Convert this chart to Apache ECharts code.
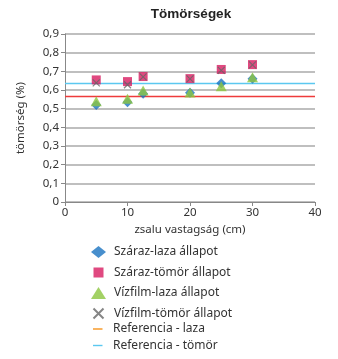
<!DOCTYPE html>
<html><head><meta charset="utf-8">
<script src="https://cdn.jsdelivr.net/npm/echarts@6/dist/echarts.min.js"></script>
<style>html,body{margin:0;padding:0;background:#fff}#c{width:338px;height:359px}</style>
</head><body><div id="c"></div>
<script>
var thickness = [5, 10, 12.5, 20, 25, 30];
var szarazLaza = [0.52, 0.535, 0.58, 0.585, 0.636, 0.66];
var szarazTomor = [0.654, 0.645, 0.672, 0.661, 0.71, 0.736];
var vizfilmLaza = [0.54, 0.553, 0.597, 0.587, 0.62, 0.668];
var vizfilmTomor = [0.638, 0.628, 0.67, 0.66, 0.705, 0.735];
var refX = [0, 40];
var refLaza = [0.565, 0.565];
var refTomor = [0.635, 0.635];
var names = ['Száraz-laza állapot','Száraz-tömör állapot','Vízfilm-laza állapot','Vízfilm-tömör állapot','Referencia - laza','Referencia - tömör'];

function pts(xs, ys){ return xs.map(function(x,i){return [x, ys[i]];}); }
var font = 'Noto Sans, sans-serif';
var xPath = 'path://M0,0L10,10M10,0L0,10';
// legend icons (box 18x12, shape in left 15px)
var lgDiamond = 'path://M0,0M18,12M0,6L7.5,0L15,6L7.5,12Z';
var lgSquare = 'path://M0,0M18,12M2.5,1L12.5,1L12.5,11L2.5,11Z';
var lgTriangle = 'path://M0,0M18,12M0,12L7.5,0L15,12Z';
var lgX = 'path://M0,0M18,12M2.5,1L12.5,11M12.5,1L2.5,11';
var lgLine = 'path://M0,0M18,12M3,5.3L12.5,5.3L12.5,6.7L3,6.7Z';

var chart = echarts.init(document.getElementById('c'));
chart.setOption({
  animation: false,
  title: {text: 'Tömörségek', left: 191, top: 7, textAlign: 'center', padding: 0,
    textStyle: {fontFamily: 'Liberation Sans, Arial', fontWeight: 'bold', fontSize: 13.5, color: '#222'}},
  grid: {left: 65, right: 23, top: 34, bottom: 157},
  xAxis: {type: 'value', min: 0, max: 40, interval: 10,
    name: 'zsalu vastagság (cm)', nameLocation: 'middle', nameGap: 22,
    nameTextStyle: {fontFamily: font, fontSize: 11.5, color: '#333'},
    axisLine: {lineStyle: {color: '#888', width: 1}},
    axisTick: {show: true, length: 4, lineStyle: {color: '#888'}},
    axisLabel: {fontFamily: font, fontSize: 11.5, color: '#333', margin: 5},
    splitLine: {show: false}},
  yAxis: {type: 'value', min: 0, max: 0.9, interval: 0.1,
    name: 'tömörség (%)', nameLocation: 'middle', nameGap: 38, nameRotate: 90,
    nameTextStyle: {fontFamily: font, fontSize: 11.5, color: '#333'},
    axisLine: {show: true, lineStyle: {color: '#888', width: 1}},
    axisTick: {show: true, length: 4, lineStyle: {color: '#888'}},
    axisLabel: {fontFamily: font, fontSize: 11.5, color: '#333', margin: 6,
      formatter: function(v){ return (Math.round(v*10)/10).toString().replace('.', ','); }},
    splitLine: {show: true, lineStyle: {color: '#aaa', width: 1.5}}},
  legend: [{
    orient: 'vertical', left: 90, top: 245, padding: 0, itemGap: 6.5, itemWidth: 18, itemHeight: 12,
    textStyle: {fontFamily: font, fontSize: 12, color: '#333', lineHeight: 14},
    data: [
      {name: names[0], icon: lgDiamond},
      {name: names[1], icon: lgSquare},
      {name: names[2], icon: lgTriangle},
      {name: names[3], icon: lgX}
    ]
  }, {
    orient: 'vertical', left: 90, top: 322, padding: 0, itemGap: 2.5, itemWidth: 18, itemHeight: 12,
    textStyle: {fontFamily: font, fontSize: 12, color: '#333', lineHeight: 14},
    data: [
      {name: names[4], icon: lgLine, itemStyle: {color: '#f7941d'}},
      {name: names[5], icon: lgLine, itemStyle: {color: '#5bc8f0'}}
    ]
  }],
  series: [
    {name: names[4], type: 'line', data: pts(refX, refLaza), showSymbol: false, symbol: 'none',
      lineStyle: {color: '#ee3b3b', width: 1.5}, itemStyle: {color: '#ee3b3b'}, z: 1},
    {name: names[5], type: 'line', data: pts(refX, refTomor), showSymbol: false, symbol: 'none',
      lineStyle: {color: '#5bc8f0', width: 1.5}, itemStyle: {color: '#5bc8f0'}, z: 1},
    {name: names[1], type: 'scatter', data: pts(thickness, szarazTomor), symbol: 'rect', symbolSize: 9,
      itemStyle: {color: '#d81b60'}, z: 3},
    {name: names[3], type: 'scatter', data: pts(thickness, vizfilmTomor), symbol: xPath, symbolSize: 7,
      itemStyle: {color: 'rgba(0,0,0,0)', borderColor: '#666', borderWidth: 1.2}, z: 4},
    {name: names[0], type: 'scatter', data: pts(thickness, szarazLaza), symbol: 'diamond', symbolSize: [10, 10],
      itemStyle: {color: '#1a73c1'}, z: 3},
    {name: names[2], type: 'scatter', data: pts(thickness, vizfilmLaza), symbol: 'triangle', symbolSize: [11, 10],
      itemStyle: {color: '#8cc63f'}, z: 4}
  ]
});
</script></body></html>
